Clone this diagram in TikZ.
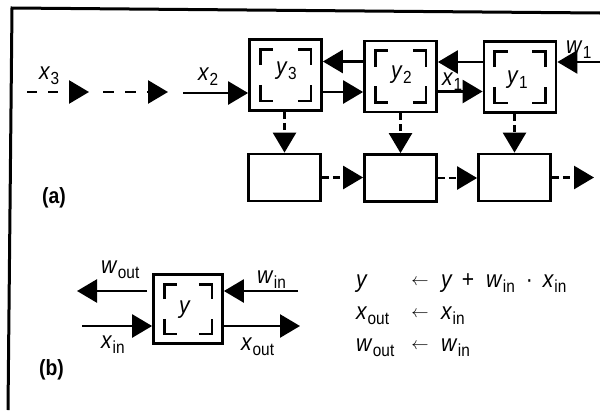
\documentclass[tikz,border=0pt]{standalone}
\usepackage{fontspec}
\setmainfont[FakeStretch=0.88]{Liberation Sans}
\usetikzlibrary{arrows.meta,calc}
\newcommand\vr[2]{\textit{#1}\kern0.3pt\raisebox{-5pt}{\fontsize{17.5}{17.5}\selectfont #2}}
\newcommand\corners[2]{%
  \draw[brk] ([shift={(12pt,-#2)}]#1.north west) |- ([shift={(25pt,-11pt)}]#1.north west);
  \draw[brk] ([shift={(-25pt,-11pt)}]#1.north east) -| ([shift={(-12pt,-#2)}]#1.north east);
  \draw[brk] ([shift={(12pt,#2)}]#1.south west) |- ([shift={(25pt,11pt)}]#1.south west);
  \draw[brk] ([shift={(-25pt,11pt)}]#1.south east) -| ([shift={(-12pt,#2)}]#1.south east);
}
\begin{document}
\begin{tikzpicture}[x=1pt,y=-1pt,
  cell/.style={draw, line width=2.8pt, minimum width=72pt, minimum height=71pt, inner sep=0pt, fill=white},
  acc/.style={draw, line width=2.8pt, minimum width=72pt, minimum height=47pt, inner sep=0pt},
  arr/.style={line width=2.6pt, -{Triangle[length=20pt,width=23pt]}},
  darr/.style={arr, dash pattern=on 10pt off 11pt},
  vdarr/.style={arr, dash pattern=on 7pt off 4pt},
  brk/.style={line width=2.8pt},
  lab/.style={inner sep=0pt, anchor=base west, font=\fontsize{24}{24}\selectfont},
  tag/.style={inner sep=0pt, anchor=base west, font=\bfseries\fontsize{22}{22}\selectfont},
  earr/.style={inner sep=0pt, anchor=base, font=\fontsize{18}{18}\selectfont}]
\useasboundingbox (0,0) rectangle (600,410);
\fill[white] (0,0) rectangle (600,410);
% frame
\draw[line width=3pt] (600,13) -- (12,8) -- (8,410);

% ---------- (a) ----------
\node[cell] (b3) at (285.5,75) {};
\node[cell] (b2) at (400.5,76.5) {};
\node[cell] (b1) at (520,77) {};
\corners{b3}{27pt}
\corners{b2}{27pt}
\corners{b1}{27pt}
\node[lab] (ly3) at (276,74) {\vr{y}{3}};
\node[lab] (ly2) at (391,78) {\vr{y}{2}};
\node[lab] (ly1) at (507,83) {\vr{y}{1}};

\node[acc] (c3) at (284.5,177.5) {};
\node[acc] (c2) at (400.5,178) {};
\node[acc] (c1) at (514.5,177.5) {};

% inputs
\coordinate (s1) at (27,92);
\coordinate (e1) at (89,92);
\coordinate (s2) at (103,92);
\coordinate (e2) at (168,92);
\coordinate (s3) at (183,93);
\draw[darr] (s1) -- (e1);
\draw[darr, dash pattern=on 11pt off 11pt] (s2) -- (e2);
\draw[arr] (s3) -- (s3 -| b3.west);

% top row
\draw[arr] ([yshift=15pt]b2.west) -- ([yshift=15pt]b2.west -| b3.east);
\draw[arr] ([yshift=-17pt]b3.east) -- ([yshift=-17pt]b3.east -| b2.west);
\draw[arr] ([yshift=15pt]b1.west) -- ([yshift=15pt]b1.west -| b2.east);
\draw[arr] ([yshift=-15pt]b2.east) -- ([yshift=-15pt]b2.east -| b1.west);
\coordinate (w1s) at (600,62);
\draw[arr] (w1s) -- (w1s -| b1.east);

% vertical
\draw[vdarr] (b3.south -| c3.north) -- (c3.north);
\draw[vdarr] (b2.south -| c2.north) -- (c2.north);
\draw[vdarr] (b1.south -| c1.north) -- (c1.north);

% bottom row
\draw[vdarr] (c3.east) -- (c3.east -| c2.west);
\draw[vdarr] (c2.east) -- (c2.east -| c1.west);
\coordinate (cout) at (594,177.5);
\draw[vdarr] (c1.east) -- (cout);

\node[lab] (lx3) at (39,79) {\vr{x}{3}};
\node[lab] (lx2) at (198,80) {\vr{x}{2}};
\node[lab] (lx1) at (442,85) {\vr{x}{1}};
\node[lab] (lw1) at (566,53) {\vr{w}{1}};
\node[tag] (ta) at (42,203) {(a)};

% ---------- (b) ----------
\node[cell, minimum width=69pt, minimum height=69pt] (bb) at (188,309) {};
\corners{bb}{26pt}
\node[lab] (ly) at (179,313) {\textit{y}};
\coordinate (wout) at (77,291);
\coordinate (win) at (298,291);
\coordinate (xin) at (82,326);
\coordinate (xout) at (300,326);
\coordinate (bwl) at ([xshift=-5pt]bb.west);
\draw[arr] (bwl |- wout) -- (wout);
\draw[arr] (win) -- (win -| bb.east);
\draw[arr] (xin) -- (xin -| bb.west);
\draw[arr] (xout -| bb.east) -- (xout);
\node[lab] (lwo) at (101,273) {\vr{w}{out}};
\node[lab] (lwi) at (257,283) {\vr{w}{in}};
\node[lab] (lxi) at (101,348) {\vr{x}{in}};
\node[lab] (lxo) at (241,350) {\vr{x}{out}};
\node[tag] (tb) at (39,375) {(b)};

% equations
\node[lab] (e1l) at (356,287) {\textit{y}};
\node[earr] (e1a) at (420,285) {$\leftarrow$};
\node[lab] (e1r) at (441,287) {\textit{y}\hspace{9pt}+\hspace{12pt}\vr{w}{in}\hspace{11pt}·\hspace{10pt}\vr{x}{in}};
\node[lab] (e2l) at (356,319) {\vr{x}{out}};
\node[earr] (e2a) at (420,317) {$\leftarrow$};
\node[lab] (e2r) at (441,319) {\vr{x}{in}};
\node[lab] (e3l) at (356,351) {\vr{w}{out}};
\node[earr] (e3a) at (420,349) {$\leftarrow$};
\node[lab] (e3r) at (441,351) {\vr{w}{in}};
\end{tikzpicture}
\end{document}
